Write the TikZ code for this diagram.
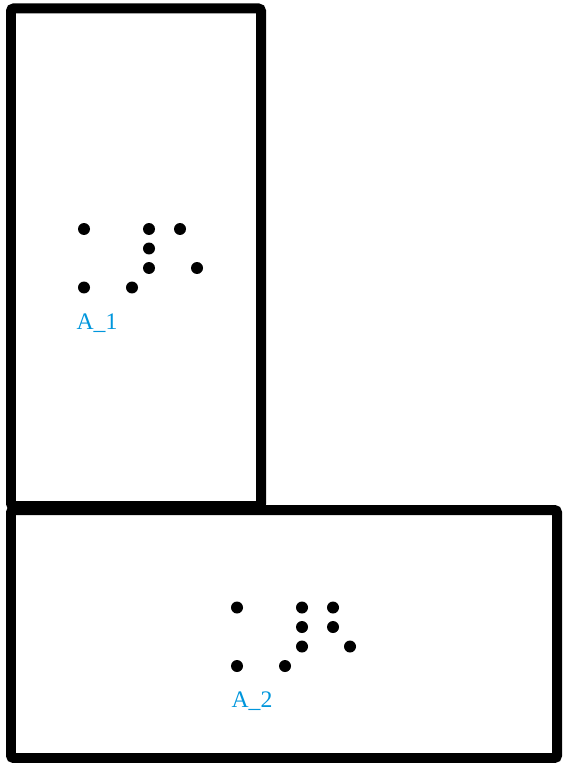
\documentclass[tikz,border=0pt]{standalone}
\usepackage{fontspec}
\setmainfont{Liberation Serif}
\usepackage{tikz}
\usetikzlibrary{positioning}
\definecolor{labelblue}{RGB}{0,150,220}

\begin{document}
\begin{tikzpicture}[
    x=0.02cm, y=-0.02cm,
    wall/.style={draw=black, line width=0.2cm, rounded corners=1.5pt},
    dot/.style={circle, fill=black, inner sep=0pt, minimum size=0.24cm},
    area/.style={text=labelblue, font=\fontsize{13.5}{16}\selectfont, inner sep=0pt, anchor=base}
]
\useasboundingbox (0,0) rectangle (562,763);

% rooms
\draw[wall] (11,8.5) rectangle (261,506);
\draw[wall] (11,510) rectangle (557,758);

% upper room
\node[dot] (p11) at (84,229) {};
\node[dot] (p12) at (149,229) {};
\node[dot] (p13) at (180,229) {};
\node[dot] (p14) at (149,248.5) {};
\node[dot] (p15) at (149,268) {};
\node[dot] (p16) at (197,268) {};
\node[dot] (p17) at (84,287.5) {};
\node[dot] (p18) at (132,287.5) {};
\node[area] (lab1) at (97,329) {A\_1};

% lower room
\node[dot] (p21) at (237,607.5) {};
\node[dot] (p22) at (302,607.5) {};
\node[dot] (p23) at (333,607.5) {};
\node[dot] (p24) at (302,627) {};
\node[dot] (p25) at (333,627) {};
\node[dot] (p26) at (302,646.5) {};
\node[dot] (p27) at (350,646.5) {};
\node[dot] (p28) at (237,666) {};
\node[dot] (p29) at (285,666) {};
\node[area] (lab2) at (252,707) {A\_2};

\end{tikzpicture}
\end{document}
